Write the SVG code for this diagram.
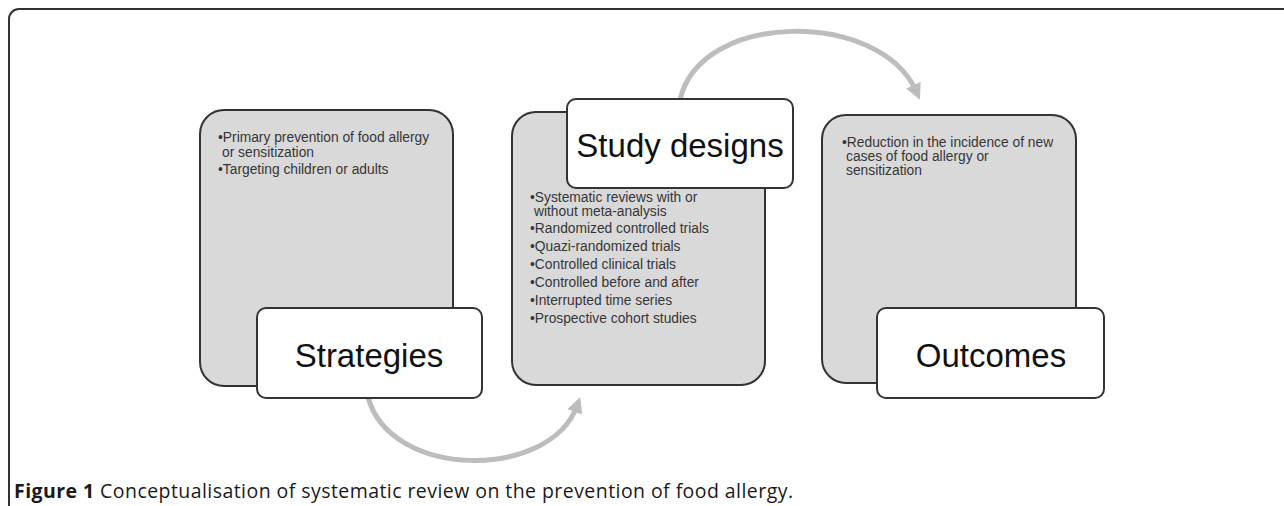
<svg xmlns="http://www.w3.org/2000/svg" width="1284" height="506" viewBox="0 0 1284 506">
<style>
  .gray { fill: #d9d9d9; stroke: #333333; stroke-width: 2; }
  .white { fill: #ffffff; stroke: #333333; stroke-width: 2; }
  .title { font-family: "Liberation Sans", Arial, sans-serif; font-size: 33px; fill: #111111; text-anchor: middle; }
  .item { font-family: "Liberation Sans", Arial, sans-serif; font-size: 13.8px; fill: #363636; }
  .conn { fill: none; stroke: #bdbdbd; stroke-width: 5; }
  .cap { font-family: "Open Sans", "Liberation Sans", sans-serif; font-size: 19.5px; fill: #1a1a1a; }
</style>
<defs>
  <marker id="head" viewBox="0 0 10 10" refX="4" refY="5" markerWidth="16" markerHeight="16" markerUnits="userSpaceOnUse" orient="auto">
    <path d="M0,0 L10,5 L0,10 Z" fill="#bdbdbd"/>
  </marker>
</defs>
<rect x="0" y="0" width="1284" height="506" fill="#ffffff"/>
<path d="M9,506 L9,19 A10,10 0 0 1 19,9 L1284,9" fill="none" stroke="#333333" stroke-width="2"/>
<g id="connectors">
  <path class="conn" d="M680,100 C700,10 880,10 916,91" marker-end="url(#head)"/>
  <path class="conn" d="M368,397 C390,480 550,480 577,406" marker-end="url(#head)"/>
</g>
<g id="strategies">
  <rect class="gray" x="200" y="110" width="253" height="276" rx="24"/>
  <text class="item" x="218" y="142">•Primary prevention of food allergy</text>
  <text class="item" x="222" y="157">or sensitization</text>
  <text class="item" x="218" y="174">•Targeting children or adults</text>
  <rect class="white" x="257" y="308" width="225" height="90" rx="9"/>
  <text class="title" x="369" y="367">Strategies</text>
</g>
<g id="study-designs">
  <rect class="gray" x="512" y="112" width="253" height="273" rx="24"/>
  <text class="item" x="530" y="202">•Systematic reviews with or</text>
  <text class="item" x="534" y="216">without meta-analysis</text>
  <text class="item" x="530" y="233">•Randomized controlled trials</text>
  <text class="item" x="530" y="251">•Quazi-randomized trials</text>
  <text class="item" x="530" y="269">•Controlled clinical trials</text>
  <text class="item" x="530" y="287">•Controlled before and after</text>
  <text class="item" x="530" y="305">•Interrupted time series</text>
  <text class="item" x="530" y="323">•Prospective cohort studies</text>
  <rect class="white" x="567" y="99" width="226" height="89" rx="9"/>
  <text class="title" x="680" y="157">Study designs</text>
</g>
<g id="outcomes">
  <rect class="gray" x="822" y="115" width="254" height="268" rx="24"/>
  <text class="item" x="842" y="147">•Reduction in the incidence of new</text>
  <text class="item" x="846" y="161">cases of food allergy or</text>
  <text class="item" x="846" y="175">sensitization</text>
  <rect class="white" x="877" y="308" width="227" height="90" rx="9"/>
  <text class="title" x="991" y="367">Outcomes</text>
</g>
<text class="cap" x="14" y="498" textLength="779"><tspan font-weight="bold">Figure 1</tspan> Conceptualisation of systematic review on the prevention of food allergy.</text>
</svg>
